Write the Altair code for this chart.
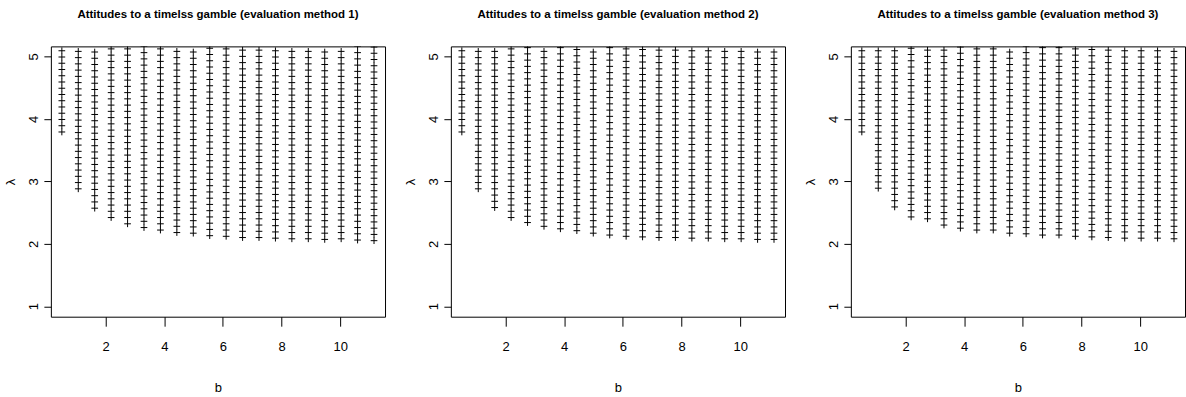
import altair as alt
import pandas as pd

# ---- data ----
B_VALUES = [0.51, 1.07, 1.63, 2.19, 2.75, 3.31, 3.87, 4.43, 4.99, 5.55,
            6.11, 6.67, 7.23, 7.79, 8.35, 8.91, 9.47, 10.03, 10.59, 11.15]

# lowest lambda marker of each b column, one list per panel
LAMBDA_MIN_1 = [3.79, 2.88, 2.57, 2.42, 2.32, 2.26, 2.22, 2.18, 2.17, 2.13,
                2.12, 2.10, 2.10, 2.09, 2.08, 2.08, 2.07, 2.08, 2.06, 2.05]
LAMBDA_MIN_2 = [3.79, 2.88, 2.58, 2.42, 2.34, 2.28, 2.24, 2.21, 2.17, 2.14,
                2.12, 2.11, 2.10, 2.10, 2.09, 2.09, 2.08, 2.08, 2.07, 2.07]
LAMBDA_MIN_3 = [3.79, 2.89, 2.59, 2.43, 2.40, 2.30, 2.25, 2.22, 2.22, 2.17,
                2.16, 2.14, 2.14, 2.12, 2.11, 2.10, 2.09, 2.09, 2.09, 2.08]

LAMBDA_STEP = 0.1     # grid step of lambda within a column
LAMBDA_TOP = 5.16     # grid continues up to the top of the plot

TITLES = ["Attitudes to a timelss gamble (evaluation method 1)",
          "Attitudes to a timelss gamble (evaluation method 2)",
          "Attitudes to a timelss gamble (evaluation method 3)"]
X_TICKS = [2, 4, 6, 8, 10]
Y_TICKS = [1, 2, 3, 4, 5]
X_DOMAIN = [0.136, 11.525]
Y_DOMAIN = [0.833, 5.16]


def grid(mins):
    rows = []
    for b, lo in zip(B_VALUES, mins):
        k = 0
        while lo + k * LAMBDA_STEP <= LAMBDA_TOP:
            rows.append({"b": b, "lam": round(lo + k * LAMBDA_STEP, 3)})
            k += 1
    return pd.DataFrame(rows)


FONT = "Liberation Sans Narrow, Arial Narrow, Liberation Sans, sans-serif"
PLUS = "M-1,0L1,0M0,-1L0,1"


def panel(mins, title):
    return (
        alt.Chart(
            grid(mins),
            title=alt.TitleParams(title, fontSize=11.5, fontWeight="bold",
                                  font=FONT, color="black", offset=26),
        )
        .mark_point(shape=PLUS, size=45, filled=False, color="black",
                    stroke="black", strokeWidth=1, opacity=1, clip=True)
        .encode(
            x=alt.X("b:Q",
                    scale=alt.Scale(domain=X_DOMAIN, nice=False, zero=False),
                    axis=alt.Axis(values=X_TICKS, title="b", grid=False,
                                  domain=False, tickSize=9.5,
                                  tickColor="black", labelPadding=14,
                                  labelFontSize=13, labelFont=FONT,
                                  labelColor="black", titleFont=FONT,
                                  titleFontSize=13, titleFontWeight="normal",
                                  titleColor="black", titlePadding=28)),
            y=alt.Y("lam:Q",
                    scale=alt.Scale(domain=Y_DOMAIN, nice=False, zero=False),
                    axis=alt.Axis(values=Y_TICKS, title="λ", grid=False,
                                  domain=False, tickSize=7,
                                  tickColor="black", labelAngle=270,
                                  labelAlign="center", labelBaseline="middle",
                                  labelPadding=10, labelFontSize=13,
                                  labelFont=FONT, labelColor="black",
                                  titleFont=FONT, titleFontSize=13,
                                  titleFontWeight="normal", titleColor="black",
                                  titlePadding=10)),
        )
        .properties(width=335, height=271)
    )


chart = (
    alt.hconcat(panel(LAMBDA_MIN_1, TITLES[0]),
                panel(LAMBDA_MIN_2, TITLES[1]),
                panel(LAMBDA_MIN_3, TITLES[2]),
                spacing=66, bounds="flush")
    .configure_view(stroke="black", strokeWidth=1)
    .properties(padding={"left": 4, "top": 8, "right": 0, "bottom": 0},
                background="white")
)

chart.save("out.html", embed_options={"renderer": "svg", "actions": False})
